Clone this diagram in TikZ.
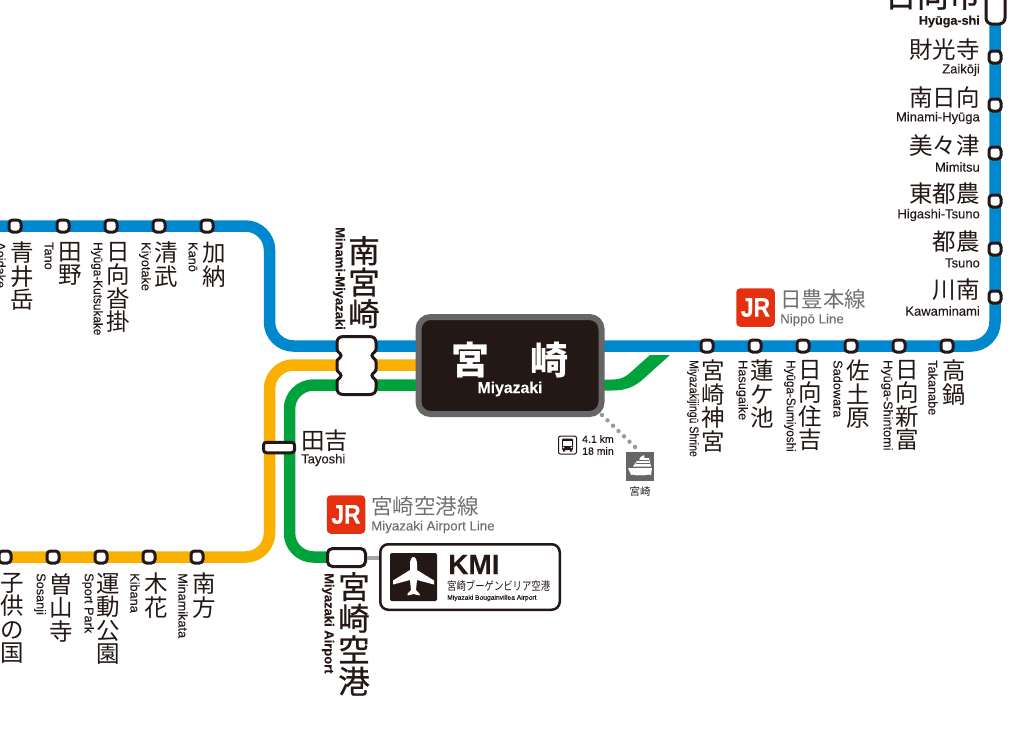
\documentclass[tikz,border=0pt]{standalone}
\usepackage{fontspec}
\setmainfont{Liberation Sans}[FakeBold=0.12]
\newfontfamily\cjk{Noto Sans CJK JP}
\newfontfamily\cjkmed{Noto Sans CJK JP}[FakeBold=0.7]
\usetikzlibrary{calc}
\definecolor{nippo}{HTML}{0088CE}
\definecolor{orangeline}{HTML}{F9B000}
\definecolor{airportline}{HTML}{00A33B}
\definecolor{inkblack}{HTML}{231815}
\definecolor{jrred}{HTML}{E5300F}
\definecolor{linegray}{HTML}{6F6F6F}
\definecolor{iconGray}{HTML}{666666}
\definecolor{dotGray}{HTML}{999999}
\tikzset{
    track/.style={line width=11.5pt, rounded corners=24pt},
    stn/.style={draw=inkblack, fill=white, line width=3pt, rounded corners=3.5pt, minimum width=12pt, minimum height=12pt, inner sep=0pt},
    kanjiv/.style={font=\cjk\fontsize{23.5}{23.5}\selectfont, text=inkblack, align=center, inner sep=0pt, anchor=north},
    kanjibig/.style={font=\cjkmed\fontsize{31.5}{31.5}\selectfont, text=inkblack, align=center, inner sep=0pt, anchor=north},
    kanjih/.style={font=\cjk\fontsize{23.5}{23.5}\selectfont, text=inkblack, inner sep=0pt, anchor=east},
    romv/.style={font=\fontsize{12.7}{12.7}\selectfont, text=inkblack, rotate=-90, inner sep=0pt, anchor=west},
    romvbold/.style={romv, font=\bfseries\fontsize{13}{13}\selectfont},
    romh/.style={font=\fontsize{13}{13}\selectfont, text=inkblack, inner sep=0pt, anchor=east},
    jrlogo/.style={fill=jrred, text=white, rounded corners=4pt, minimum width=38.5pt, minimum height=38.5pt, inner sep=0pt, font=\bfseries\fontsize{27}{27}\selectfont},
    linename/.style={font=\cjk\fontsize{21.5}{21.5}\selectfont, text=linegray, inner sep=0pt, anchor=west},
    lineroman/.style={font=\fontsize{13.3}{13.3}\selectfont, text=linegray, inner sep=0pt, anchor=west},
}
\begin{document}
\begin{tikzpicture}[x=1pt, y=-1pt]
    \useasboundingbox (0,0) rectangle (1024,732);

    \coordinate (nippoW) at (0,226);
    \coordinate (nippoE) at (995,0);
    \coordinate (orangeW) at (0,557);
    \coordinate (hub) at (510,365);
    % lines
    \draw[track, nippo] (nippoW) -- (269.5,226) -- (269.5,346) -- (995,346) -- (nippoE);
    \draw[track, orangeline] (orangeW) -- (269.5,557) -- (269.5,365) -- (hub);
    \draw[track, airportline] (347,557) -- (289.5,557) -- (289.5,385) -- (hub |- 0,385);
    \fill[airportline] (600,379.5) -- (612,379.5) .. controls (622,379.5) and (627,376) .. (632,371) -- (650,355) -- (670,355) -- (641,381) .. controls (632,388) and (624,390.5) .. (612,390.5) -- (600,390.5) -- cycle;

    % hub station
    \node[draw=iconGray, fill=inkblack, line width=6pt, rounded corners=12pt, minimum width=183pt, minimum height=97pt, inner sep=0pt] (miyazaki) at (510,365.5) {};
    \node[font=\cjk\bfseries\fontsize{38}{38}\selectfont, text=white, inner sep=0pt] (miyazakiA) at (470,360) {宮};
    \node[font=\cjk\bfseries\fontsize{38}{38}\selectfont, text=white, inner sep=0pt] (miyazakiB) at (549,360) {崎};
    \node[font=\bfseries\fontsize{15.8}{15.8}\selectfont, text=white, inner sep=0pt] (miyazakiR) at (510,389) {Miyazaki};

    % ferry link
    \node[fill=iconGray, minimum width=28pt, minimum height=29pt, inner sep=0pt] (ferry) at (640,466.5) {};
    \coordinate (dotA) at (602,415);
    \coordinate (dotB) at (635,447);
    \foreach \t in {0,...,6} {
        \fill[dotGray] ($(dotA)!\t/6!(dotB)$) circle (2.2);
    }
    \fill[white] (628,468) -- (652,468) -- (651,475) .. controls (647,473.5) and (645,476.5) .. (640,475) .. controls (636,476.5) and (633,473.5) .. (631,475) -- cycle;
    \fill[white] (633,466.5) -- (637,461) -- (639,461) -- (640,457.5) -- (644,455) -- (644.5,458) -- (649,458) -- (651,466.5) -- cycle;
    \draw[iconGray, line width=0.8pt] (636,463.5) -- (650,463.5) (639,460) -- (649,460);
    \node[font=\cjk\fontsize{10.5}{10.5}\selectfont, text=inkblack, inner sep=0pt] (ferrylabel) at (640,491) {宮崎};

    % bus
    \node[draw=inkblack, line width=1pt, rounded corners=2pt, minimum width=18pt, minimum height=18pt, inner sep=0pt] (bus) at (567.5,445) {};
    \fill[inkblack, rounded corners=1pt] (562,438.5) rectangle (573,450);
    \fill[white] (563.3,441) rectangle (571.7,445.5);
    \fill[white] (563.5,447.5) circle (0.9) (571.5,447.5) circle (0.9);
    \fill[inkblack] (563,449.5) rectangle (565,451.5) (570,449.5) rectangle (572,451.5);
    \node[font=\fontsize{10.5}{12}\selectfont, text=inkblack, align=left, inner sep=0pt, anchor=west] (buslabel) at (582,445) {4.1 km\\18 min};

    % Nippo line, east
    \foreach \x/\stname in {707/a,755/b,803/c,851/d,899/e,947/f} {
        \node[stn] (n\stname) at (\x,346) {};
    }
    \foreach \y/\stname in {57/a,105/b,153/c,201/d,249/e,297/f} {
        \node[stn] (k\stname) at (995,\y) {};
    }
    \node[stn, minimum width=19pt, minimum height=40pt, rounded corners=6pt] (hyuga) at (995.5,4) {};

    \node[kanjiv] (lna) at (713,360) {宮\\崎\\神\\宮};
    \node[kanjiv] (lnb) at (762,360) {蓮\\ケ\\池};
    \node[kanjiv] (lnc) at (810,360) {日\\向\\住\\吉};
    \node[kanjiv] (lnd) at (858,360) {佐\\土\\原};
    \node[kanjiv] (lne) at (907,360) {日\\向\\新\\富};
    \node[kanjiv] (lnf) at (954,360) {高\\鍋};
    \node[romv] at (693,360) {\scalebox{.83}[1]{Miyazakijingū Shrine}};
    \node[romv] at (742,360) {Hasugaike};
    \node[romv] at (790,360) {\scalebox{.92}[1]{Hyūga-Sumiyoshi}};
    \node[romv] at (838,360) {Sadowara};
    \node[romv] at (887,360) {Hyūga-Shintomi};
    \node[romv] at (933,360) {Takanabe};

    \node[font=\cjkmed\fontsize{32}{32}\selectfont, text=inkblack, inner sep=0pt, anchor=east] (lhyuga) at (981,-5) {日向市};
    \node[romh, font=\bfseries\fontsize{12.6}{12.6}\selectfont] at (980,21.5) {Hyūga-shi};
    \node[kanjih] at (980,50) {財光寺};
    \node[romh] at (980,70) {Zaikōji};
    \node[kanjih] at (980,98) {南日向};
    \node[romh] at (980,118) {Minami-Hyūga};
    \node[kanjih] at (980,146) {美々津};
    \node[romh] at (980,167) {Mimitsu};
    \node[kanjih] at (980,194) {東都農};
    \node[romh] at (980,215) {Higashi-Tsuno};
    \node[kanjih] at (980,242) {都農};
    \node[romh] at (980,263) {Tsuno};
    \node[kanjih] at (980,290) {川南};
    \node[romh] at (980,311) {Kawaminami};

    % Nippo line, west
    \foreach \x in {15,63,111,159,207} {
        \node[stn] (w\x) at (\x,226) {};
    }
    \node[kanjiv] at (22,242) {青\\井\\岳};
    \node[kanjiv] at (70,242) {田\\野};
    \node[kanjiv] at (118,242) {日\\向\\沓\\掛};
    \node[kanjiv] at (166,242) {清\\武};
    \node[kanjiv] at (214,242) {加\\納};
    \node[romv] at (1,242) {Aoidake};
    \node[romv] at (49,242) {Tano};
    \node[romv] at (97,242) {\scalebox{.93}[1]{Hyūga-Kutsukake}};
    \node[romv] at (145,242) {Kiyotake};
    \node[romv] at (193,242) {Kanō};

    % lower branch
    \foreach \x in {5,53,101,149,197} {
        \node[stn] (s\x) at (\x,557) {};
    }
    \node[kanjiv] at (12,573) {子\\供\\の\\国};
    \node[kanjiv] at (61,573) {曽\\山\\寺};
    \node[kanjiv] at (108,573) {運\\動\\公\\園};
    \node[kanjiv] at (156,573) {木\\花};
    \node[kanjiv] at (204,573) {南\\方};
    \node[romv] at (40,573) {Sosanji};
    \node[romv] at (88,573) {Sport Park};
    \node[romv] at (135,573) {Kibana};
    \node[romv] at (183,573) {Minamikata};

    % Minami-Miyazaki
    \draw[draw=inkblack, fill=white, line width=3pt] (344,336.5) -- (369,336.5) .. controls (374,336.5) and (376,338.5) .. (376,343) -- (376,349) .. controls (376,352.5) and (372,353) .. (372,355.5) .. controls (372,358) and (376,358.5) .. (376,362) -- (376,369) .. controls (376,372.5) and (372,373) .. (372,375.5) .. controls (372,378) and (376,378.5) .. (376,382) -- (376,388) .. controls (376,392.5) and (374,394.5) .. (369,394.5) -- (344,394.5) .. controls (339,394.5) and (337,392.5) .. (337,388) -- (337,382) .. controls (337,378.5) and (341,378) .. (341,375.5) .. controls (341,373) and (337,372.5) .. (337,369) -- (337,362) .. controls (337,358.5) and (341,358) .. (341,355.5) .. controls (341,353) and (337,352.5) .. (337,349) -- (337,343) .. controls (337,338.5) and (339,336.5) .. (344,336.5) -- cycle;
    \node[kanjibig] (lmm) at (364,236) {南\\宮\\崎};
    \node[romvbold] at (339,227) {Minami-Miyazaki};

    % Tayoshi
    \node[stn, minimum width=31pt, minimum height=10.5pt, rounded corners=3pt] (tayoshi) at (279,447.5) {};
    \node[kanjih, anchor=west] at (301,441) {田吉};
    \node[romh, anchor=west] at (301,460) {Tayoshi};

    % line labels
    \node[jrlogo] (jrn) at (755.5,307.5) {\scalebox{.85}[1]{JR}};
    \node[linename] at (780,299) {日豊本線};
    \node[lineroman] at (780,320) {Nippō Line};
    \node[jrlogo] (jra) at (346,514.5) {\scalebox{.85}[1]{JR}};
    \node[linename] at (371,506) {宮崎空港線};
    \node[lineroman] at (371,527) {Miyazaki Airport Line};

    % airport
    \node[stn, minimum width=38pt, minimum height=18pt, rounded corners=5pt] (apt) at (346.5,557.5) {};
    \node[draw=inkblack, fill=white, line width=2.5pt, rounded corners=8pt, minimum width=179.5pt, minimum height=65.5pt, inner sep=0pt] (kmibox) at (470,577) {};
    \draw[black!35, line width=4pt] (apt.east) -- (apt.east -| kmibox.west);
    \node[fill=inkblack, rounded corners=1.5pt, minimum width=47pt, minimum height=48pt, inner sep=0pt] (plane) at (413.5,577) {};
    \fill[white] (413.5,557) .. controls (415.5,557) and (417,560) .. (417,564) -- (417,570) -- (434,580.5) -- (434,584.5) -- (417,580) -- (416,590) -- (419.5,593.5) -- (419.5,595.5) -- (413.5,594) -- (407.5,595.5) -- (407.5,593.5) -- (411,590) -- (410,580) -- (393,584.5) -- (393,580.5) -- (410,570) -- (410,564) .. controls (410,560) and (411.5,557) .. (413.5,557) -- cycle;
    \node[font=\bfseries\fontsize{28}{28}\selectfont, text=inkblack, inner sep=0pt, anchor=west] (kmi) at (448,564.5) {KMI};
    \node[font=\cjk\fontsize{11.7}{11.7}\selectfont, text=inkblack, inner sep=0pt, anchor=west] at (447,586) {\scalebox{.8}[1]{宮崎ブーゲンビリア空港}};
    \node[font=\fontsize{6.7}{6.7}\selectfont, text=inkblack, inner sep=0pt, anchor=west] at (447,598) {Miyazaki Bougainvillea Airport};
    \node[kanjibig] (lapt) at (354,572) {宮\\崎\\空\\港};
    \node[romvbold] at (328,573) {Miyazaki Airport};
\end{tikzpicture}
\end{document}
